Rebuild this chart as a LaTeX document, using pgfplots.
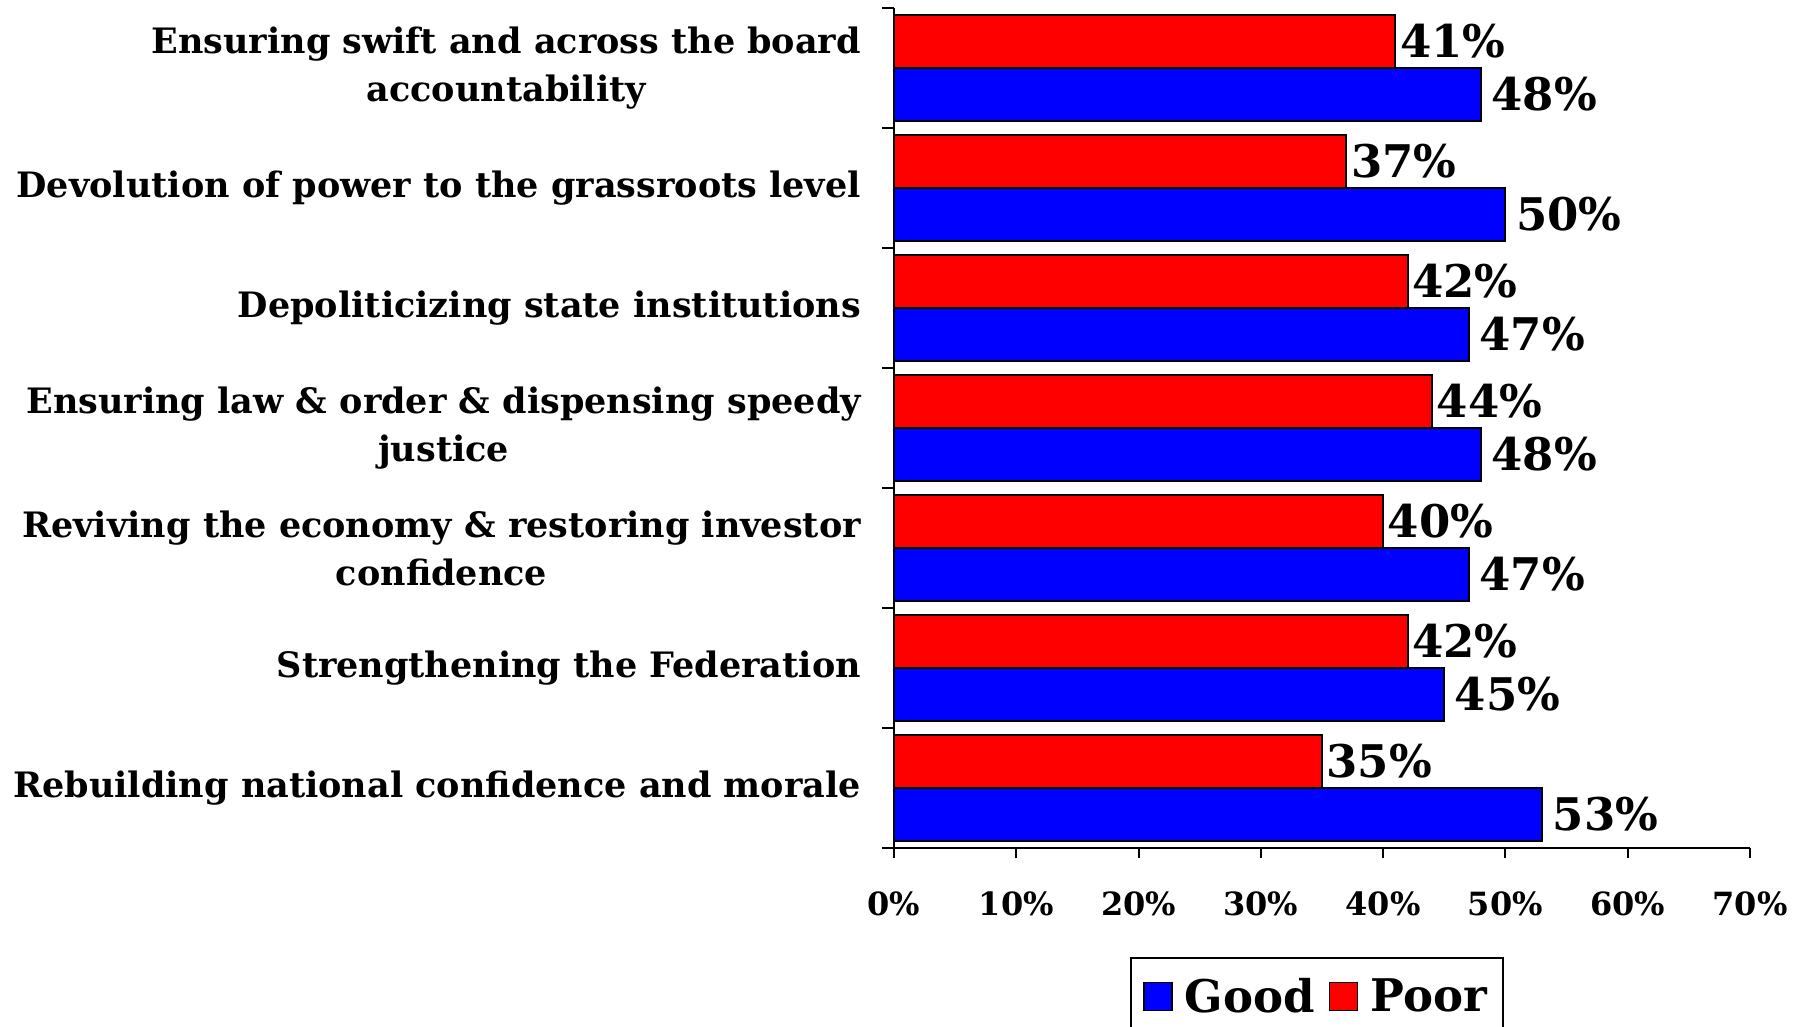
\documentclass[border=0pt]{standalone}
\usepackage{fontspec}
\setmainfont{DejaVu Serif}
\usepackage{pgfplots}
\pgfplotsset{compat=1.18}
\definecolor{goodblue}{RGB}{0,0,255}
\definecolor{poorred}{RGB}{255,0,0}
\begin{document}
\bfseries
\begin{tikzpicture}
\begin{axis}[
    xbar=0pt,
    bar width=26.5pt,
    width=428pt, height=420pt,
    scale only axis,
    xmin=0, xmax=70,
    ymin=-0.5, ymax=6.5,
    axis x line*=bottom,
    axis y line*=left,
    axis line style={line width=1pt},
    tick align=outside,
    tick style={line width=1pt, black},
    xtick={0,10,...,70},
    xticklabels={0\%,10\%,20\%,30\%,40\%,50\%,60\%,70\%},
    major tick length=5pt,
    xticklabel style={font=\fontsize{16}{18}\selectfont\bfseries, yshift=-13.5pt},
    ytick={0,...,6},
    yticklabels={
        {Rebuilding national confidence and morale},
        {Strengthening the Federation},
        {Reviving the economy \& restoring investor\\confidence},
        {Ensuring law \& order \& dispensing speedy\\justice},
        {Depoliticizing state institutions},
        {Devolution of power to the grassroots level},
        {Ensuring swift and across the board\\accountability}},
    yticklabel style={align=center, anchor=east, xshift=-8pt,
        font=\fontsize{17.5}{24}\selectfont\bfseries},
    y tick style={draw=none},
    minor ytick={-0.5,0.5,...,6.5},
    minor y tick style={draw=black, line width=1pt},
    minor tick length=6pt,
    /pgf/number format/assume math mode=true,
    nodes near coords={\pgfmathprintnumber{\pgfplotspointmeta}\%},
    nodes near coords style={font=\fontsize{22.5}{24}\selectfont\bfseries, anchor=west},
    legend columns=2,
    legend style={at={(0.2757,-0.1298)}, anchor=north west, draw=black,
        line width=1pt, font=\fontsize{22.5}{24}\selectfont\bfseries,
        /tikz/every even column/.append style={column sep=5pt},
        inner xsep=6pt, inner ysep=8pt},
    legend image code/.code={\draw[#1, draw=black, line width=0.8pt] (0pt,-7pt) rectangle (14pt,7pt);
        \path[draw=none, fill=none] (0pt,0pt) -- (18.5pt,0pt);},
]
\addplot[fill=goodblue, draw=black, line width=1pt,
    nodes near coords style={xshift=1.5pt}] coordinates {
    (53,0) (45,1) (47,2) (48,3) (47,4) (50,5) (48,6)};
\addlegendentry{Good}
\addplot[fill=poorred, draw=black, line width=1pt,
    nodes near coords style={xshift=-1.5pt}] coordinates {
    (35,0) (42,1) (40,2) (44,3) (42,4) (37,5) (41,6)};
\addlegendentry{Poor}
\end{axis}
\pgfresetboundingbox
\path[use as bounding box] (-447pt,-89.5pt) rectangle (457pt,424pt);
\end{tikzpicture}
\end{document}
